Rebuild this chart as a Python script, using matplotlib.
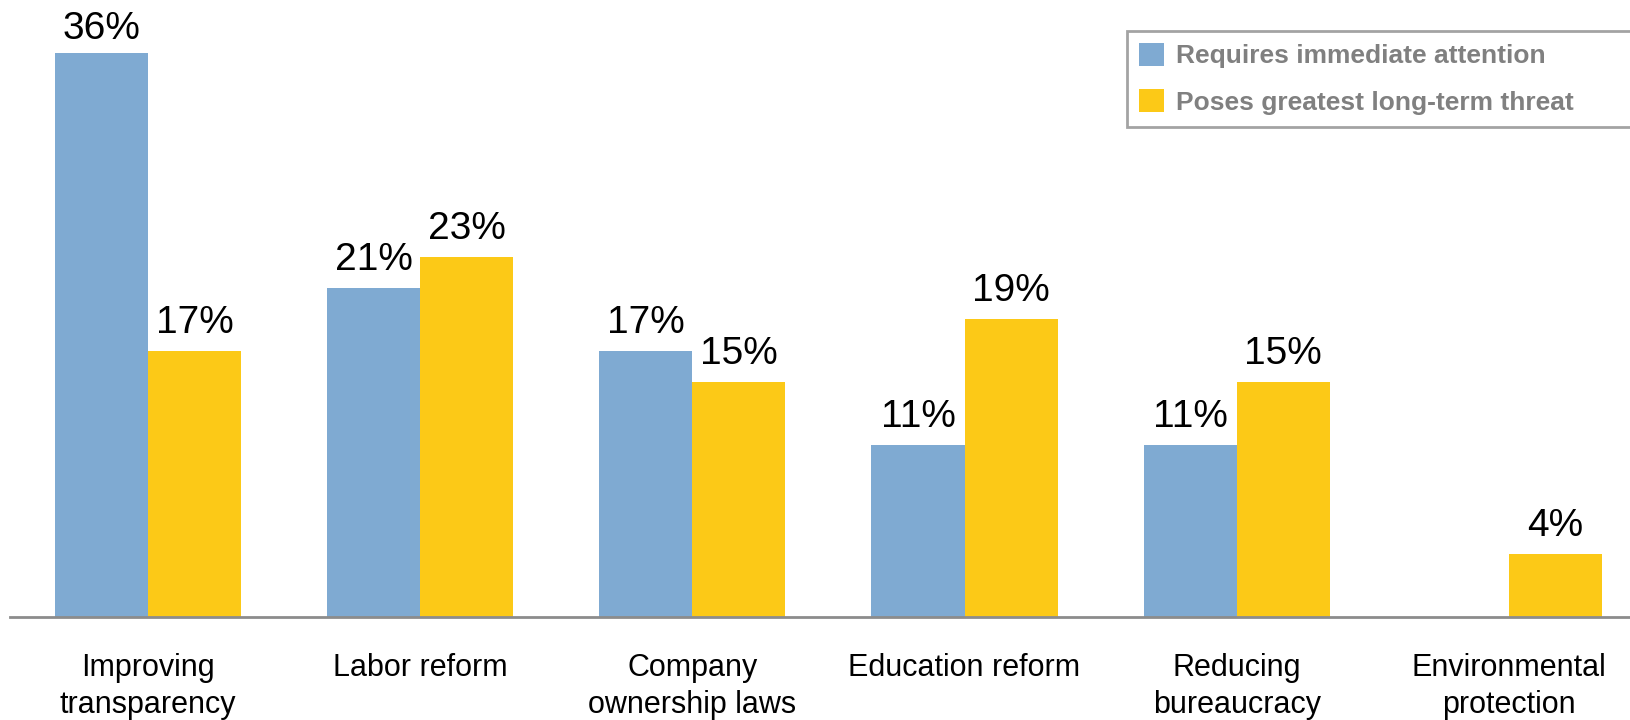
import numpy as np
import matplotlib.pyplot as plt
from matplotlib.patches import Patch

categories = ['Improving\ntransparency', 'Labor reform', 'Company\nownership laws',
              'Education reform', 'Reducing\nbureaucracy', 'Environmental\nprotection']
immediate = [36, 21, 17, 11, 11, None]
long_term = [17, 23, 15, 19, 15, 4]
series_names = ['Requires immediate attention', 'Poses greatest long-term threat']

BLUE = '#7FAAD2'
YELLOW = '#FCC917'

plt.rcParams['font.family'] = ['Liberation Sans', 'DejaVu Sans']

fig = plt.figure(figsize=(16.3, 7.2), dpi=100)
ax = fig.add_axes([0, 103 / 720, 1, 617 / 720])

x = np.arange(len(categories))
w = 0.342
YTOP = 39.4


def label(xpos, v):
    # keep the label inside the figure for the tallest bar
    y = min(v + 0.65, YTOP - 3.0)
    ax.text(xpos, y, f'{v}%', ha='center', va='bottom', fontsize=28)


for i, (a, b) in enumerate(zip(immediate, long_term)):
    if a is not None:
        ax.bar(x[i] - w / 2, a, w, color=BLUE)
        label(x[i] - w / 2, a)
    if b is not None:
        ax.bar(x[i] + w / 2, b, w, color=YELLOW)
        label(x[i] + w / 2, b)

ax.set_xlim(-0.544, 5.445)
ax.set_ylim(0, YTOP)

for s in ['top', 'right', 'left']:
    ax.spines[s].set_visible(False)
ax.spines['bottom'].set_color('#8C8C8C')
ax.spines['bottom'].set_linewidth(2)
ax.spines['bottom'].set_bounds(-0.507, 5.445)
ax.set_yticks([])
ax.set_xticks(x)
ax.set_xticklabels(categories, fontsize=22, linespacing=1.3)
ax.tick_params(axis='x', length=0, pad=26)

handles = [Patch(facecolor=BLUE), Patch(facecolor=YELLOW)]
leg = fig.legend(handles, series_names, loc='upper left',
                 bbox_to_anchor=(1127 / 1630, 1 - 31 / 720, 0.32, 0),
                 mode='expand', prop={'weight': 'bold', 'size': 19},
                 handlelength=0.95, handleheight=0.95, handletextpad=0.45,
                 labelspacing=0.8, borderpad=0.45, borderaxespad=0,
                 frameon=True, fancybox=False)
for t in leg.get_texts():
    t.set_color('#808080')
leg.get_frame().set_edgecolor('#8C8C8C')
leg.get_frame().set_linewidth(2)

fig.savefig('out.png', dpi=100)
